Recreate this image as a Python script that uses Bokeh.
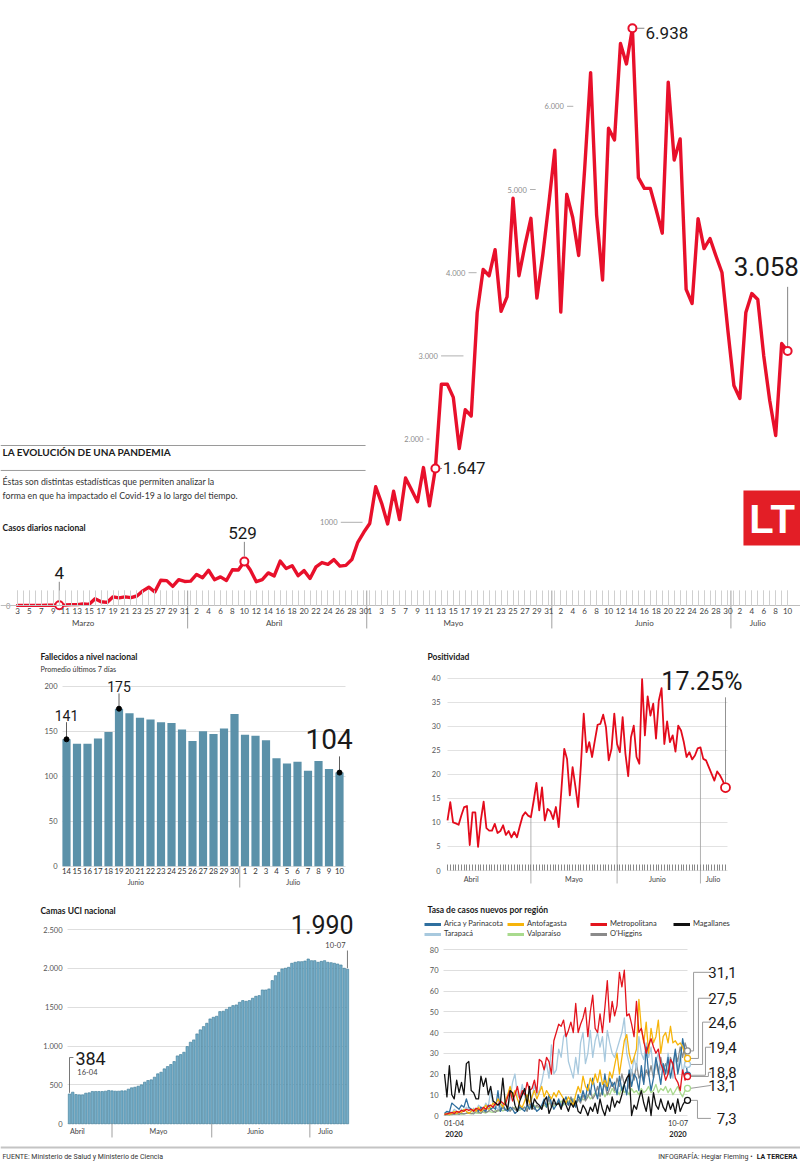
from bokeh.plotting import figure
from bokeh.models import (ColumnDataSource, FixedTicker, LinearAxis, Label, Span, Grid,
                          BoxAnnotation, Legend, LegendItem, Range1d)
from bokeh.layouts import column, row
from bokeh.embed import file_html
from bokeh.resources import INLINE
from bokeh.core.properties import value

# ============================ DATA ============================
# Casos diarios nacional, 3 de marzo - 10 de julio 2020
casos_marzo = [1, 2, 1, 1, 2, 3, 3, 4, 6, 10, 10, 18, 14, 81, 45, 37, 104, 92, 103, 95,
               114, 176, 220, 164, 304, 299, 230, 310, 289]
casos_abril = [293, 373, 333, 424, 310, 344, 301, 430, 426, 529, 426, 286, 312, 392, 356,
               534, 445, 478, 358, 419, 325, 464, 516, 494, 552, 473, 482, 552, 760, 880]
casos_mayo = [985, 1427, 1228, 980, 1373, 1032, 1533, 1391, 1247, 1658, 1197, 1647, 2660,
              2659, 2502, 1886, 2353, 2278, 3520, 4038, 3964, 4276, 3536, 3709, 4895, 3964,
              4328, 4654, 3695, 4220, 4830]
casos_junio = [5471, 3527, 4942, 4664, 4207, 5246, 6405, 4696, 3913, 5737, 5596, 6754, 6509,
               6938, 5143, 5013, 5013, 4750, 4475, 6290, 5355, 5607, 3800, 3630, 4650, 4290,
               4411, 4200, 4002, 3300]
casos_julio = [2644, 2488, 3522, 3750, 3678, 3000, 2464, 2043, 3149, 3058]
casos_diarios = casos_marzo + casos_abril + casos_mayo + casos_junio + casos_julio

meses = ["Marzo", "Abril", "Mayo", "Junio", "Julio"]
largo_mes = [31, 30, 31, 30, 31]
primer_dia_serie = 3  # la serie parte el 3 de marzo
dias_rotulados = [list(range(3, 32, 2)), list(range(2, 31, 2)), list(range(1, 32, 2)),
                  list(range(2, 31, 2)), list(range(2, 11, 2))]
eje_y_casos = [0, 1000, 2000, 3000, 4000, 5000, 6000]
eje_y_casos_txt = ["0", "1000", "2.000", "3.000", "4.000", "5.000", "6.000"]
marcas_casos = [("Marzo", 10), ("Abril", 10), ("Mayo", 12), ("Junio", 14), ("Julio", 10)]

# Fallecidos a nivel nacional (promedio 7 dias), 14 jun - 10 jul
fallecidos_dias = [14, 15, 16, 17, 18, 19, 20, 21, 22, 23, 24, 25, 26, 27, 28, 29, 30,
                   1, 2, 3, 4, 5, 6, 7, 8, 9, 10]
fallecidos_prom = [141, 136, 136, 142, 149, 175, 170, 165, 163, 160, 159, 152, 139, 150, 147,
                   153, 169, 146, 145, 140, 120, 114, 116, 106, 117, 108, 104]
fallecidos_meses = ["Junio", "Julio"]
fallecidos_eje_y = [0, 50, 100, 150, 200]

# Positividad (%), 1 abr - 10 jul
positividad = [
    10.4, 14.2, 10.0, 9.8, 9.5, 11.5, 13.2, 13.4, 5.3, 12.1,
    12.1, 4.9, 10.5, 14.3, 8.8, 8.3, 8.3, 9.7, 7.8, 8.2,
    9.4, 7.4, 8.2, 6.9, 8.0, 6.9, 9.2, 11.3, 12.1, 11.4,
    11.1, 14.5, 18.2, 12.5, 17.3, 10.4, 12.8, 12.3, 10.7, 13.2,
    9.0, 17.0, 25.3, 23.2, 15.6, 21.5, 17.5, 13.2, 22.0, 32.6,
    24.6, 26.7, 23.6, 27.0, 30.3, 30.5, 32.4, 29.8, 22.9, 25.3,
    32.6, 26.3, 24.6, 31.9, 24.3, 19.6, 27.7, 30.1, 23.6, 22.2,
    39.8, 28.1, 36.2, 32.2, 34.7, 27.4, 35.3, 37.9, 26.3, 31.0,
    26.7, 28.1, 24.7, 30.1, 29.1, 26.7, 23.6, 24.6, 23.1, 23.9,
    25.4, 25.6, 23.2, 22.9, 21.5, 20.1, 18.7, 20.6, 19.8, 18.7,
    17.25]
positividad_meses = ["Abril", "Mayo", "Junio", "Julio"]
positividad_largo_mes = [30, 31, 30, 10]
positividad_eje_y = [0, 5, 10, 15, 20, 25, 30, 35, 40]

# Camas UCI nacional, 16 abr - 10 jul
camas_uci = [
    384, 407, 377, 373, 373, 394, 399, 416, 416, 416,
    416, 420, 429, 424, 420, 420, 424, 424, 446, 463,
    471, 484, 501, 536, 557, 566, 600, 643, 664, 707,
    737, 763, 801, 874, 891, 921, 994, 1050, 1080, 1157,
    1209, 1251, 1294, 1350, 1371, 1384, 1444, 1449, 1474, 1500,
    1521, 1530, 1564, 1586, 1577, 1586, 1616, 1641, 1650, 1723,
    1723, 1736, 1843, 1907, 1950, 1993, 2002, 2014, 2066, 2079,
    2087, 2087, 2095, 2121, 2100, 2100, 2079, 2091, 2100, 2079,
    2074, 2066, 2057, 2044, 2002, 1990]
camas_meses = ["Abril", "Mayo", "Junio", "Julio"]
camas_eje_y = [0, 500, 1000, 1500, 2000, 2500]
camas_eje_y_txt = ["0", "500", "1.000", "1500", "2.000", "2.500"]
camas_fechas = ["16-04", "10-07"]

# Tasa de casos nuevos por region, 1 abr - 10 jul
tasa_arica = [
    1.0, 2.0, 1.5, 6.0, 5.0, 4.0, 3.0, 5.0, 4.0, 8.0,
    4.0, 3.0, 2.0, 3.0, 2.0, 4.0, 3.0, 2.0, 5.0, 3.0,
    4.0, 3.0, 12.0, 2.0, 5.0, 3.0, 2.0, 4.0, 3.0, 1.0,
    2.0, 4.0, 3.0, 2.0, 5.0, 3.0, 6.0, 4.0, 2.0, 3.0,
    5.0, 8.0, 4.0, 10.0, 6.0, 3.0, 5.0, 8.0, 4.0, 6.0,
    9.0, 5.0, 8.0, 6.0, 4.0, 10.0, 7.0, 12.0, 8.0, 15.0,
    10.0, 18.0, 12.0, 8.0, 16.0, 10.0, 20.0, 12.0, 18.0, 14.0,
    16.0, 10.0, 19.0, 12.0, 15.0, 10.0, 22.0, 14.0, 20.0, 18.0,
    12.0, 24.0, 15.0, 33.0, 20.0, 12.0, 18.0, 28.0, 22.0, 15.0,
    25.0, 20.0, 28.0, 18.0, 24.0, 32.0, 20.0, 26.0, 37.0, 30.0,
    19.4]
tasa_tarapaca = [
    1.0, 1.5, 2.0, 1.0, 3.0, 2.0, 1.5, 3.0, 2.0, 4.0,
    3.0, 2.0, 3.5, 2.0, 5.0, 4.0, 3.0, 6.0, 4.0, 12.0,
    5.0, 4.0, 3.0, 8.0, 5.0, 6.0, 4.0, 8.0, 16.0, 20.0,
    10.0, 8.0, 15.0, 9.0, 6.0, 12.0, 8.0, 15.0, 10.0, 12.0,
    16.0, 22.0, 25.0, 18.0, 34.0, 20.0, 22.0, 32.0, 28.0, 38.0,
    40.0, 26.0, 22.0, 18.0, 28.0, 20.0, 35.0, 40.0, 25.0, 30.0,
    41.0, 28.0, 36.0, 40.0, 33.0, 38.0, 26.0, 41.0, 35.0, 30.0,
    28.0, 32.0, 36.0, 40.0, 47.0, 30.0, 25.0, 20.0, 28.0, 22.0,
    38.0, 30.0, 27.0, 35.0, 28.0, 33.0, 20.0, 26.0, 30.0, 22.0,
    25.0, 20.0, 30.0, 24.0, 18.0, 28.0, 22.0, 30.0, 20.0, 26.0,
    24.6]
tasa_antofagasta = [
    0.5, 1.0, 0.5, 1.0, 2.0, 1.0, 2.0, 1.5, 3.0, 2.0,
    1.0, 2.0, 3.0, 2.0, 4.0, 2.0, 3.0, 5.0, 3.0, 4.0,
    6.0, 5.0, 8.0, 6.0, 4.0, 7.0, 10.0, 14.0, 9.0, 12.0,
    8.0, 5.0, 4.0, 7.0, 10.0, 6.0, 9.0, 12.0, 8.0, 11.0,
    14.0, 9.0, 12.0, 10.0, 8.0, 11.0, 9.0, 12.0, 10.0, 8.0,
    6.0, 9.0, 7.0, 5.0, 10.0, 14.0, 11.0, 19.0, 14.0, 12.0,
    18.0, 15.0, 20.0, 16.0, 22.0, 15.0, 17.0, 14.0, 21.0, 18.0,
    24.0, 30.0, 20.0, 28.0, 36.0, 39.0, 30.0, 25.0, 28.0, 32.0,
    56.0, 42.0, 35.0, 45.0, 30.0, 42.0, 35.0, 38.0, 46.0, 30.0,
    38.0, 40.0, 35.0, 43.0, 35.0, 36.0, 34.0, 35.0, 33.0, 30.0,
    27.5]
tasa_valparaiso = [
    0.2, 0.3, 0.5, 0.3, 0.8, 0.5, 1.0, 0.6, 0.8, 1.2,
    1.0, 0.8, 1.5, 1.2, 1.0, 2.0, 1.5, 1.2, 2.0, 1.8,
    1.5, 2.5, 2.0, 3.0, 2.2, 2.8, 3.5, 2.5, 3.0, 4.0,
    3.0, 2.5, 3.5, 4.0, 3.0, 4.5, 3.5, 5.0, 4.0, 3.5,
    4.5, 5.0, 4.0, 6.0, 5.0, 4.5, 6.0, 5.5, 7.0, 5.0,
    6.0, 7.0, 5.5, 8.0, 6.5, 7.0, 9.0, 7.5, 8.0, 10.0,
    8.0, 9.0, 11.0, 9.5, 10.0, 12.0, 9.0, 11.0, 10.0, 13.0,
    11.0, 12.0, 10.0, 14.0, 11.0, 12.0, 10.0, 13.0, 11.0, 12.0,
    10.0, 13.0, 11.0, 12.0, 14.0, 11.0, 12.0, 15.0, 11.0, 13.0,
    12.0, 14.0, 11.0, 13.0, 10.0, 12.0, 14.0, 11.0, 9.0, 12.0,
    13.1]
tasa_metropolitana = [
    0.5, 0.8, 1.2, 1.5, 1.0, 2.0, 1.5, 2.5, 2.0, 3.0,
    2.5, 3.0, 2.0, 3.5, 3.0, 2.5, 4.0, 3.0, 4.5, 5.0,
    4.0, 6.0, 5.0, 7.0, 6.0, 5.0, 9.0, 12.0, 7.0, 10.0,
    14.0, 8.0, 12.0, 10.0, 16.0, 12.0, 13.0, 17.0, 11.0, 27.0,
    26.0, 22.0, 28.0, 26.0, 20.0, 36.0, 40.0, 44.0, 43.0, 46.0,
    38.0, 41.0, 45.0, 40.0, 54.0, 40.0, 44.0, 47.0, 52.0, 38.0,
    50.0, 58.0, 42.0, 40.0, 49.0, 40.0, 52.0, 65.0, 45.0, 55.0,
    48.0, 53.0, 69.0, 62.0, 70.0, 48.0, 49.0, 44.0, 38.0, 55.0,
    40.0, 42.0, 36.0, 30.0, 34.0, 37.0, 33.0, 30.0, 32.0, 25.0,
    22.0, 17.0, 20.0, 27.0, 25.0, 18.0, 16.0, 12.0, 22.0, 17.0,
    18.8]
tasa_ohiggins = [
    0.2, 0.5, 0.3, 0.8, 0.5, 1.0, 0.5, 1.2, 0.8, 1.0,
    1.5, 1.0, 0.8, 2.0, 1.5, 1.0, 2.5, 1.5, 2.0, 3.0,
    2.0, 1.5, 3.0, 2.0, 4.0, 2.5, 3.0, 2.0, 4.0, 3.0,
    2.0, 5.0, 3.0, 4.0, 2.0, 6.0, 4.0, 3.0, 5.0, 4.0,
    3.0, 6.0, 5.0, 8.0, 4.0, 6.0, 5.0, 7.0, 4.0, 8.0,
    6.0, 5.0, 9.0, 7.0, 5.0, 8.0, 6.0, 10.0, 7.0, 9.0,
    12.0, 8.0, 10.0, 14.0, 9.0, 12.0, 15.0, 10.0, 13.0, 16.0,
    12.0, 18.0, 14.0, 20.0, 15.0, 18.0, 13.0, 22.0, 17.0, 25.0,
    18.0, 20.0, 16.0, 22.0, 19.0, 24.0, 18.0, 26.0, 20.0, 28.0,
    22.0, 25.0, 20.0, 28.0, 24.0, 30.0, 26.0, 33.0, 28.0, 35.0,
    31.1]
tasa_magallanes = [
    20, 9, 24, 10, 8, 17, 11, 16, 10, 25,
    26, 12, 11, 8, 8, 19, 14, 18, 10, 14,
    7, 6, 5, 6, 18, 6, 3, 12, 11, 5,
    2, 7, 10, 13, 5, 14, 3, 8, 6, 5,
    3, 7, 9, 1, 4, 8, 5, 6, 3, 8,
    5, 2, 6, 4, 7, 2, 1, 5, 3, 0,
    4, 2, 6, 1, 8, 3, 0, 5, 2, 9,
    4, 7, 6, 10, 15, 18, 20, 0, 5, 3,
    8, 12, 6, 2, 9, 0, 11, 5, 3, 8,
    4, 2, 7, 3, 6, 1, 8, 2, 5, 7,
    7.3]
regiones = ["Arica y Parinacota", "Tarapacá", "Antofagasta", "Valparaíso",
            "Metropolitana", "O'Higgins", "Magallanes"]
tasa_eje_y = [0, 10, 20, 30, 40, 50, 60, 70, 80]
tasa_fechas = ["01-04", "10-07"]
tasa_anio = ["2020", "2020"]

# ============================ STYLE ============================
RED = "#e8102b"
RED_POS = "#e30b1c"
BAR_F = "#5b91a9"
BAR_C = "#76aec9"
BAR_C_LINE = "#3a7896"
GRID = "#dedede"
SEP = "#a0a0a0"
SANS = "Lato"
NUM = "Roboto"
INK = "#1a1a1a"
COLORES = ["#2f6f9f", "#a8c9de", "#f6b40b", "#a9da8e", "#e3141d", "#8a8a8a", "#111111"]
HAS_CROSS = "cross_bounds" in Grid.properties()


def canvas_fig(w, h, xmap, ymap, box):
    """Figure whose frame covers the whole canvas; px = a + b*data (y grows downward)."""
    x0, y0 = box
    ax_, bx_ = xmap
    ay_, by_ = ymap
    xr = ((x0 - ax_) / bx_, (x0 + w - ax_) / bx_)
    yr = ((ay_ - (y0 + h)) / by_, (ay_ - y0) / by_)
    p = figure(width=w, height=h, x_range=Range1d(*xr), y_range=Range1d(*yr),
               x_axis_type=None, y_axis_type=None, toolbar_location=None,
               output_backend="svg", min_border_left=0, min_border_right=0,
               min_border_top=0, min_border_bottom=0)
    p.outline_line_color = None
    return p


def add_label(p, x, y, text, size, font=SANS, bold=False, color=INK, align="left"):
    p.add_layout(Label(x=x, y=y, text=text, text_font=font, text_font_size=f"{size}px",
                       text_font_style="bold" if bold else "normal", text_color=color,
                       text_align=align, text_baseline="middle"))


def make_axis(ticks, labels=None, minor=None, size=7.5, color="#555", standoff=3,
              font=SANS, bold=False, fixed=0.0):
    ax = LinearAxis(ticker=FixedTicker(ticks=list(ticks), minor_ticks=list(minor or [])),
                    fixed_location=fixed)
    if labels is not None:
        ax.major_label_overrides = {t: l for t, l in zip(ticks, labels)}
    ax.axis_line_color = None
    ax.major_tick_line_color = None
    ax.minor_tick_line_color = None
    ax.major_tick_in = 0
    ax.major_tick_out = 0
    ax.minor_tick_in = 0
    ax.minor_tick_out = 0
    ax.major_label_text_font_size = f"{size}px"
    ax.major_label_text_color = color
    ax.major_label_text_font = font
    ax.major_label_text_font_style = "bold" if bold else "normal"
    ax.major_label_standoff = standoff
    return ax


def add_grid(p, ticks, xb, color=GRID):
    g = Grid(dimension=1, ticker=FixedTicker(ticks=ticks), grid_line_color=color,
             grid_line_width=1)
    if HAS_CROSS:
        g.cross_bounds = xb
    p.add_layout(g)


def miles(v):
    return f"{int(round(v)):,}".replace(",", ".")


# ============================ TOP: CASOS DIARIOS ============================
top = canvas_fig(800, 640, (17.0, 5.97), (605.0, 0.0832), (0, 0))

inicio = {}
acc = 1 - primer_dia_serie
for m, L in zip(meses, largo_mes):
    inicio[m] = acc
    acc += L


def d_of(mes, dia):
    return inicio[mes] + dia - 1


N = len(casos_diarios)

day_pos, day_lab = [], []
for m, dias in zip(meses, dias_rotulados):
    for dd in dias:
        day_pos.append(d_of(m, dd))
        day_lab.append(str(dd))
ax1 = make_axis(day_pos, day_lab, minor=range(N), size=8, color="#444", standoff=2)
ax1.axis_line_color = "#bdbdbd"
ax1.major_tick_line_color = "#d0d0d0"
ax1.minor_tick_line_color = "#d0d0d0"
ax1.major_tick_in = 15
ax1.minor_tick_in = 15
top.add_layout(ax1, "below")
mes_pos_top = [11, 43, 73, 105, 124]
ax2 = make_axis(mes_pos_top, meses, size=8, color="#444", standoff=12)
top.add_layout(ax2, "below")
bounds_top = [inicio[m] - 0.5 for m in meses[1:]]
top.segment(x0=bounds_top, y0=[180] * 4, x1=bounds_top, y1=[-276] * 4, line_color=SEP,
            line_width=1)

src = ColumnDataSource(dict(d=list(range(N)), v=casos_diarios))
top.line("d", "v", source=src, line_color=RED, line_width=3.4, line_join="round",
         line_cap="round")

# header texts and rules
top.segment(x0=[-2.85, -2.85], y0=[1923, 1623], x1=[58.3, 58.3], y1=[1923, 1623],
            line_color="#9a9a9a", line_width=1)
add_label(top, -2.5, 1839, "LA EVOLUCIÓN DE UNA PANDEMIA", 10, bold=True)
add_label(top, -2.5, 1490, "Éstas son distintas estadísticas que permiten analizar la",
          8.8, color="#333")
add_label(top, -2.5, 1322, "forma en que ha impactado el Covid-19 a lo largo del tiempo.",
          8.8, color="#333")
add_label(top, -2.5, 937, "Casos diarios nacional", 8.5, bold=True)

# inline value scale
ylab_x = [-1.2, 53.6, 68.0, 70.4, 75.0, 85.3, 91.5]
ylab_end = [-1.2, 57.8, 69.0, 74.7, 76.9, 86.8, 93.1]
top.text(x=ylab_x, y=eje_y_casos, text=eje_y_casos_txt, text_align="right",
         text_baseline="middle", text_font=value(SANS), text_font_size="7.5px",
         text_color="#8c8c8c")
top.segment(x0=[x + 0.55 for x in ylab_x[1:]], y0=eje_y_casos[1:], x1=ylab_end[1:],
            y1=eje_y_casos[1:], line_color="#b0b0b0", line_width=1)

# highlighted points
mi = [d_of(m, dd) for m, dd in marcas_casos]
mv = [casos_diarios[i] for i in mi]
LEAD = "#666666"
top.segment(x0=[mi[0], mi[1], mi[4]], y0=[285, 765, 3830],
            x1=[mi[0], mi[1], mi[4]], y1=[60, mv[1] + 60, mv[4] + 60],
            line_color=LEAD, line_width=0.8)
top.segment(x0=[mi[2] + 0.7, mi[3] + 0.7], y0=[mv[2], mv[3]],
            x1=[mi[2] + 1.1, mi[3] + 2.0], y1=[mv[2], mv[3]], line_color=LEAD,
            line_width=0.8)
add_label(top, mi[0], 385, miles(mv[0]), 17, font=NUM, align="center")
add_label(top, mi[1] - 0.3, 877, miles(mv[1]), 17, font=NUM, align="center")
add_label(top, mi[2] + 1.25, mv[2], miles(mv[2]), 17, font=NUM)
add_label(top, mi[3] + 2.2, mv[3] - 60, miles(mv[3]), 17, font=NUM)
add_label(top, mi[4] + 1.9, 4075, miles(mv[4]), 26, font=NUM, align="right")
top.scatter(x=mi, y=mv, marker="circle", size=8, fill_color="white", line_color=RED,
            line_width=2)

# logo
top.add_layout(BoxAnnotation(left=121.6, right=131.15, bottom=721, top=1382,
                             fill_color="#e31e26", fill_alpha=1.0, line_color=None))
add_label(top, 126.4, 1040, "LT", 40, font="Liberation Sans", bold=True, color="white",
          align="center")

# ============================ FALLECIDOS ============================
f1 = canvas_fig(400, 255, (66.0, 10.5), (865.7, 0.9), (0, 640))
add_grid(f1, fallecidos_eje_y, (-0.38, 26.57))
xf = list(range(len(fallecidos_prom)))
f1.vbar(x=xf, top=fallecidos_prom, width=0.78, fill_color=BAR_F, line_color=None)
f1.add_layout(make_axis(fallecidos_eje_y, size=7.5, color="#555", standoff=5, fixed=-0.38),
              "left")
f1.add_layout(make_axis(xf, [str(d) for d in fallecidos_dias], size=7.8, color="#333",
                        standoff=2), "below")
split = next(i for i in range(1, len(fallecidos_dias))
             if fallecidos_dias[i] < fallecidos_dias[i - 1])
f1.add_layout(make_axis([6.6, 21.6], fallecidos_meses, size=7, color="#444", standoff=12),
              "below")
f1.segment(x0=[split - 0.5], y0=[0], x1=[split - 0.5], y1=[-23.7], line_color=SEP,
           line_width=1)
i_max = max(xf, key=lambda i: fallecidos_prom[i])
i_last = xf[-1]
pts = [0, i_max, i_last]
f1.segment(x0=pts, y0=[160, 192, 122], x1=pts,
           y1=[fallecidos_prom[i] + 2 for i in pts], line_color="#333", line_width=0.8)
f1.scatter(x=pts, y=[fallecidos_prom[i] for i in pts], marker="circle", size=5,
           color="black")
add_label(f1, 0, 167, str(fallecidos_prom[0]), 14, font=NUM, align="center")
add_label(f1, i_max, 199.5, str(fallecidos_prom[i_max]), 14, font=NUM, align="center")
add_label(f1, i_last + 1.25, 141, str(fallecidos_prom[i_last]), 28, font=NUM,
          align="right")
add_label(f1, -2.48, 231.9, "Fallecidos a nivel nacional", 8.5, bold=True)
add_label(f1, -2.48, 218.6, "Promedio últimos 7 días", 7.2, color="#333")

# ============================ POSITIVIDAD ============================
f2 = canvas_fig(400, 255, (447.0, 2.78), (870.0, 4.81), (400, 640))
add_grid(f2, positividad_eje_y, (0, 100.7), color="#e2e2e2")
xp = list(range(len(positividad)))
inicios_p = []
a = 0
for L in positividad_largo_mes[:-1]:
    a += L
    inicios_p.append(a)
f2.segment(x0=inicios_p, y0=[-2.7] * len(inicios_p), x1=inicios_p,
           y1=[positividad[i] for i in inicios_p], line_color=SEP, line_width=0.8)
f2.line(xp, positividad, line_color=RED_POS, line_width=1.8, line_join="round")
f2.segment(x0=[xp[-1]], y0=[36.0], x1=[xp[-1]], y1=[positividad[-1] + 1.0],
           line_color="#777", line_width=0.8)
f2.scatter(x=[xp[-1]], y=[positividad[-1]], marker="circle", size=9, fill_color="white",
           line_color=RED_POS, line_width=1.8)
f2.add_layout(make_axis(positividad_eje_y, size=7.5, color="#555", standoff=7, fixed=0),
              "left")
axd = make_axis([], minor=xp, standoff=0)
axd.minor_tick_line_color = "#888"
axd.minor_tick_in = 6
f2.add_layout(axd, "below")
f2.add_layout(make_axis([8.5, 45.5, 75.5, 95.5], positividad_meses, size=7.2,
                        color="#444", standoff=4), "below")
add_label(f2, 106.1, 39.2, f"{positividad[-1]:.2f}%", 25, font=NUM, align="right")
add_label(f2, -7.2, 44.3, "Positividad", 8.5, bold=True)

# ============================ CAMAS UCI ============================
f3 = canvas_fig(400, 250, (69.0, 3.27), (1123.3, 0.0777), (0, 895))
add_grid(f3, camas_eje_y, (-0.61, 85.0))
xc = list(range(len(camas_uci)))
f3.vbar(x=xc, top=camas_uci, width=0.74, fill_color=BAR_C, line_color=BAR_C_LINE,
        line_width=0.6)
f3.add_layout(make_axis(camas_eje_y, camas_eje_y_txt, size=7.5, color="#555", standoff=5,
                        fixed=-0.61), "left")
f3.add_layout(make_axis([2.4, 27.2, 56.9, 78.3], camas_meses, size=7.2, color="#444",
                        standoff=3), "below")
cam_bounds = [13, 43.5, 73.5]
f3.segment(x0=cam_bounds, y0=[0] * 3, x1=cam_bounds, y1=[-176] * 3, line_color=SEP,
           line_width=1)
f3.segment(x0=[0, 0, xc[-1]], y0=[camas_uci[0] + 15, 853, 2230],
           x1=[0, 1.2, xc[-1]], y1=[853, 853, camas_uci[-1] + 15],
           line_color="#555", line_width=0.8)
add_label(f3, 1.8, 840, str(camas_uci[0]), 18, font=NUM)
add_label(f3, 2.4, 668, camas_fechas[0], 7.5, color="#444")
add_label(f3, 86.9, 2571, miles(camas_uci[-1]), 25, font=NUM, align="right")
add_label(f3, 84.4, 2295, camas_fechas[1], 7.5, color="#444", align="right")
add_label(f3, -8.87, 2745, "Camas UCI nacional", 8.5, bold=True)

# ============================ TASA POR REGION ============================
f4 = canvas_fig(400, 250, (444.0, 2.43), (1115.0, 2.075), (400, 895))
add_grid(f4, tasa_eje_y, (-0.41, 100.0))
series = [tasa_arica, tasa_tarapaca, tasa_antofagasta, tasa_valparaiso,
          tasa_metropolitana, tasa_ohiggins, tasa_magallanes]
xt = list(range(len(tasa_arica)))
for k in [3, 5, 1, 0, 2, 4, 6]:
    f4.line(xt, series[k], line_color=COLORES[k], line_width=1.3, line_join="round")
ends = [s[-1] for s in series]
orden = sorted(range(7), key=lambda k: -ends[k])
lab_y = [69, 56.5, 45, 32.9, 20.8, 14.5, -1.4]
elbow = [102.5, 104.5, 106.2, 107.4, 108.6, None, 104.1]
x0s, y0s, x1s, y1s = [], [], [], []
for k, ly, ex in zip(orden, lab_y, elbow):
    e = ends[k]
    if ex is None:
        x0s += [xt[-1] + 1.3]
        y0s += [e]
        x1s += [109.6]
        y1s += [ly]
    else:
        x0s += [xt[-1] + 1.3, ex, ex]
        y0s += [e, e, ly]
        x1s += [ex, ex, 109.6]
        y1s += [e, ly, ly]
    add_label(f4, 120.2, ly, f"{e:.1f}".replace(".", ","), 15, font=NUM, align="right")
f4.segment(x0=x0s, y0=y0s, x1=x1s, y1=y1s, line_color="#9a9a9a", line_width=1)
f4.scatter(x=[xt[-1]] * 7, y=ends, marker="circle", size=6, fill_color="white",
           line_color=COLORES, line_width=1.3)
f4.add_layout(make_axis(tasa_eje_y, size=7.5, color="#555", standoff=5, fixed=-0.41),
              "left")
f4.add_layout(make_axis([3.9, 96.1], tasa_fechas, size=7.5, color="#333", standoff=4),
              "below")
f4.add_layout(make_axis([3.9, 96.1], tasa_anio, size=7.5, color="#222", standoff=15,
                        bold=True), "below")
items = []
for k in range(7):
    r = f4.line(x=[-500, -499], y=[-500, -500], line_color=COLORES[k], line_width=3)
    items.append(LegendItem(label=regiones[k], renderers=[r]))
leg = Legend(items=items, orientation="vertical", nrows=2, location="top_left",
             label_text_font=SANS, label_text_font_size="7.5px", label_text_color="#333",
             glyph_width=17, glyph_height=8, label_height=9, label_width=62,
             label_standoff=3, spacing=1, padding=0, margin=24, border_line_color=None,
             background_fill_alpha=0)
f4.add_layout(leg)
add_label(f4, -7.0, 98.8, "Tasa de casos nuevos por región", 8.5, bold=True)

# ============================ FOOTER ============================
foot = canvas_fig(800, 18, (0.0, 1.0), (18.0, 1.0), (0, 0))
foot.add_layout(Span(location=16, dimension="width", line_color="#c4c4c4", line_width=2))
add_label(foot, 2, 7, "FUENTE: Ministerio de Salud y Ministerio de Ciencia", 7, font=NUM,
          color="#333")
add_label(foot, 797, 7, "LA TERCERA", 7, font=NUM, bold=True, align="right")
add_label(foot, 752, 7, "INFOGRAFÍA: Hegiar Fleming •", 7, font=NUM, color="#333",
          align="right")

layout = column(top, row(f1, f2), row(f3, f4), foot)
with open("out.html", "w") as fh:
    fh.write(file_html(layout, INLINE))
